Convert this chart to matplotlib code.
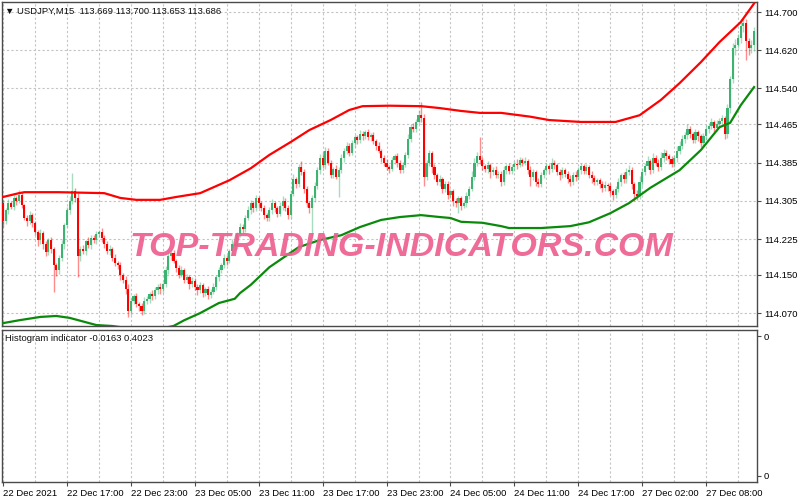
#!/usr/bin/env python3
# USDJPY M15 candles with channel bands + empty histogram sub-window (MT4 look)

import numpy as np
import matplotlib
matplotlib.use("Agg")
import matplotlib.pyplot as plt

plt.rcParams["font.family"] = ["Liberation Sans", "DejaVu Sans"]

# ----------------------------
# Data
# ----------------------------
FIRST_OPEN = 114.300

closes = [
    114.262, 114.285, 114.300, 114.292, 114.310, 114.305, 114.318, 114.296, 114.270, 114.262,
    114.275, 114.258, 114.240, 114.222, 114.238, 114.215, 114.198, 114.222, 114.205, 114.170,
    114.160, 114.185, 114.215, 114.255, 114.285, 114.305, 114.325, 114.310, 114.190, 114.205,
    114.200, 114.220, 114.212, 114.228, 114.222, 114.235, 114.240, 114.228, 114.215, 114.200,
    114.205, 114.185, 114.175, 114.170, 114.150, 114.140, 114.120, 114.075, 114.095, 114.105,
    114.090, 114.085, 114.075, 114.095, 114.100, 114.110, 114.105, 114.118, 114.125, 114.120,
    114.130, 114.160, 114.190, 114.195, 114.180, 114.165, 114.150, 114.160, 114.140, 114.145,
    114.130, 114.138, 114.125, 114.118, 114.128, 114.112, 114.120, 114.108, 114.115, 114.125,
    114.145, 114.160, 114.170, 114.185, 114.180, 114.200, 114.215, 114.210, 114.235, 114.250,
    114.245, 114.270, 114.285, 114.300, 114.290, 114.310, 114.300, 114.290, 114.275, 114.268,
    114.285, 114.300, 114.290, 114.278, 114.295, 114.305, 114.290, 114.275, 114.320, 114.350,
    114.340, 114.375, 114.365, 114.330, 114.300, 114.290, 114.310, 114.335, 114.370, 114.395,
    114.380, 114.410, 114.385, 114.360, 114.372, 114.355, 114.370, 114.395, 114.410, 114.420,
    114.405, 114.425, 114.438, 114.432, 114.445, 114.440, 114.448, 114.438, 114.443, 114.430,
    114.420, 114.410, 114.395, 114.385, 114.375, 114.372, 114.390, 114.398, 114.385, 114.370,
    114.380, 114.400, 114.435, 114.460, 114.455, 114.470, 114.485, 114.478, 114.355, 114.385,
    114.405, 114.375, 114.360, 114.345, 114.350, 114.330, 114.340, 114.318, 114.325, 114.305,
    114.300, 114.310, 114.295, 114.300, 114.315, 114.330, 114.355, 114.385, 114.398, 114.390,
    114.378, 114.372, 114.380, 114.365, 114.370, 114.360, 114.362, 114.345, 114.370, 114.378,
    114.368, 114.375, 114.383, 114.380, 114.390, 114.385, 114.388, 114.370, 114.355, 114.365,
    114.345, 114.340, 114.360, 114.370, 114.378, 114.372, 114.385, 114.380, 114.365, 114.358,
    114.370, 114.362, 114.350, 114.345, 114.360, 114.355, 114.370, 114.378, 114.368, 114.375,
    114.360, 114.352, 114.345, 114.348, 114.340, 114.332, 114.338, 114.335, 114.325, 114.318,
    114.330, 114.345, 114.358, 114.350, 114.365, 114.370, 114.340, 114.320, 114.315, 114.345,
    114.365, 114.378, 114.388, 114.370, 114.395, 114.385, 114.375, 114.395, 114.405, 114.398,
    114.392, 114.382, 114.395, 114.410, 114.420, 114.435, 114.442, 114.455, 114.445, 114.432,
    114.448, 114.440, 114.425, 114.440, 114.455, 114.462, 114.470, 114.458, 114.465, 114.472,
    114.478, 114.445, 114.500, 114.560, 114.625, 114.632, 114.645, 114.670, 114.678, 114.640,
    114.625, 114.630, 114.660,
]

# wick lengths in points (0.001)
upper_wicks = [
    6, 4, 8, 5, 7, 4, 10, 5, 3, 6,
    8, 4, 5, 3, 9, 4, 6, 5, 7, 4,
    5, 6, 8, 4, 7, 9, 38, 6, 12, 5,
    8, 4, 10, 6, 5, 7, 4, 8, 5, 6,
    7, 4, 9, 5, 6, 4, 8, 10, 6, 5,
    7, 4, 6, 8, 5, 4, 9, 6, 5, 7,
    6, 8, 10, 5, 7, 4, 6, 8, 5, 6,
    4, 7, 5, 6, 8, 4, 5, 7, 6, 9,
    5, 6, 4, 8, 7, 5, 10, 6, 4, 8,
    6, 5, 9, 7, 4, 8, 6, 5, 7, 4,
    6, 8, 5, 4, 7, 9, 5, 6, 8, 12,
    5, 7, 14, 6, 5, 4, 8, 10, 6, 7,
    12, 8, 5, 6, 4, 7, 5, 8, 6, 9,
    6, 7, 5, 4, 8, 6, 5, 7, 4, 6,
    5, 7, 4, 6, 8, 5, 6, 4, 7, 5,
    6, 8, 9, 5, 7, 6, 10, 27, 8, 6,
    7, 5, 6, 4, 8, 5, 6, 7, 4, 5,
    6, 4, 5, 7, 8, 6, 12, 9, 10, 40,
    6, 5, 8, 4, 6, 7, 5, 6, 8, 5,
    7, 6, 5, 9, 6, 4, 8, 5, 7, 6,
    5, 8, 6, 4, 7, 5, 9, 6, 5, 7,
    6, 4, 5, 8, 6, 7, 5, 6, 4, 8,
    5, 7, 6, 4, 5, 6, 8, 5, 7, 4,
    6, 8, 5, 7, 9, 10, 6, 5, 7, 12,
    8, 6, 10, 5, 9, 6, 7, 12, 8, 6,
    5, 7, 6, 9, 11, 8, 6, 10, 7, 5,
    8, 6, 5, 7, 9, 6, 8, 5, 10, 6,
    7, 5, 8, 6, 10, 12, 8, 15, 10, 8,
    6, 12, 8,
]

lower_wicks = [
    12, 5, 7, 4, 6, 8, 5, 7, 6, 9,
    5, 8, 6, 12, 7, 10, 8, 6, 9, 56,
    12, 8, 6, 10, 5, 7, 6, 8, 45, 10,
    7, 9, 6, 8, 5, 7, 6, 10, 8, 6,
    9, 7, 6, 8, 10, 7, 9, 13, 8, 6,
    7, 10, 8, 6, 5, 9, 7, 6, 8, 10,
    7, 5, 9, 8, 6, 10, 7, 5, 8, 6,
    9, 6, 7, 10, 5, 8, 6, 9, 7, 5,
    6, 8, 7, 5, 9, 6, 8, 7, 5, 6,
    8, 6, 5, 7, 9, 6, 10, 7, 8, 6,
    5, 7, 8, 6, 5, 9, 7, 8, 6, 5,
    8, 6, 7, 9, 8, 10, 61, 7, 6, 8,
    7, 9, 6, 8, 7, 5, 43, 6, 8, 7,
    6, 5, 7, 8, 6, 7, 5, 6, 8, 7,
    8, 6, 9, 7, 6, 8, 5, 7, 9, 6,
    7, 5, 6, 8, 7, 6, 5, 8, 20, 7,
    8, 12, 9, 7, 10, 8, 6, 9, 7, 10,
    8, 20, 9, 6, 8, 7, 5, 6, 8, 7,
    8, 7, 9, 12, 6, 8, 7, 10, 6, 8,
    7, 6, 8, 9, 5, 7, 6, 8, 20, 7,
    9, 7, 6, 8, 7, 10, 6, 8, 7, 9,
    6, 8, 7, 10, 6, 9, 7, 8, 6, 7,
    8, 10, 7, 6, 9, 8, 7, 10, 8, 12,
    7, 6, 9, 8, 7, 6, 10, 15, 9, 7,
    8, 6, 7, 9, 6, 8, 7, 6, 8, 7,
    9, 7, 6, 8, 7, 6, 9, 7, 8, 6,
    7, 9, 8, 6, 7, 8, 6, 9, 7, 8,
    6, 10, 8, 12, 9, 15, 8, 10, 12, 40,
    15, 10, 12,
]

# channel bands, sampled at bar indices
upper_band_bars = [0, 6, 8, 21, 38, 44, 50, 59, 65, 74, 85, 93, 100, 108, 115, 123, 130,
                   135, 145, 157, 164, 172, 179, 187, 198, 205, 217, 230, 239, 247, 254,
                   262, 269, 277, 282]
upper_band = [114.313, 114.321, 114.323, 114.323, 114.321, 114.311, 114.307, 114.307,
              114.313, 114.321, 114.348, 114.373, 114.401, 114.428, 114.453, 114.474,
              114.495, 114.503, 114.504, 114.503, 114.499, 114.493, 114.489, 114.489,
              114.481, 114.474, 114.470, 114.470, 114.484, 114.516, 114.551, 114.595,
              114.637, 114.679, 114.718]

lower_band_bars = [0, 6, 14, 20, 25, 31, 35, 41, 50, 57, 64, 68, 74, 81, 87, 89, 93, 100,
                   111, 119, 127, 134, 142, 149, 157, 164, 168, 172, 180, 187, 190, 202,
                   213, 220, 228, 235, 243, 254, 262, 269, 273, 277, 282]
lower_band = [114.049, 114.055, 114.062, 114.064, 114.060, 114.051, 114.045, 114.043,
              114.036, 114.035, 114.043, 114.055, 114.070, 114.091, 114.100, 114.112,
              114.129, 114.166, 114.208, 114.223, 114.233, 114.250, 114.265, 114.271,
              114.275, 114.271, 114.269, 114.261, 114.259, 114.252, 114.248, 114.248,
              114.252, 114.260, 114.279, 114.300, 114.332, 114.369, 114.411, 114.459,
              114.468, 114.505, 114.543]

price_ticks = [114.070, 114.150, 114.225, 114.305, 114.385, 114.465, 114.540, 114.620, 114.700]
time_labels = ["22 Dec 2021", "22 Dec 17:00", "22 Dec 23:00", "23 Dec 05:00",
               "23 Dec 11:00", "23 Dec 17:00", "23 Dec 23:00", "24 Dec 05:00",
               "24 Dec 11:00", "24 Dec 17:00", "27 Dec 02:00", "27 Dec 08:00"]
BARS_PER_LABEL = 24

HEADER = "\u25bc USDJPY,M15  113.669 113.700 113.653 113.686"
SUB_HEADER = "Histogram indicator -0.0163 0.4023"
WATERMARK = "TOP-TRADING-INDICATORS.COM"

BULL = "#3cb371"
BEAR = "#ff0000"
GRID = "#c4c4c4"
FRAME = "#4a4a4a"


def style_axis(ax):
    for s in ax.spines.values():
        s.set_color(FRAME)
        s.set_linewidth(1.0)
    ax.set_facecolor("white")


def main():
    c = np.asarray(closes)
    o = np.concatenate([[FIRST_OPEN], c[:-1]])
    n = len(c)
    x = np.arange(n)
    top = np.maximum(o, c)
    bot = np.minimum(o, c)
    hi = top + np.asarray(upper_wicks) / 1000.0
    lo = bot - np.asarray(lower_wicks) / 1000.0
    bull = c >= o
    colors = np.where(bull, BULL, BEAR)
    body = np.maximum(top - bot, 0.0008)

    fig = plt.figure(figsize=(8, 5), dpi=100)
    ax = fig.add_axes([2 / 800, 174 / 500, 755 / 800, 324 / 500])
    ax2 = fig.add_axes([2 / 800, 18 / 500, 755 / 800, 152 / 500])

    # --- main price window
    ax.vlines(x, lo, hi, colors=colors, linewidth=1.0, alpha=0.45, zorder=2)
    ax.bar(x, body, bottom=bot, width=0.8, color=colors, linewidth=0, zorder=3)
    ax.plot(upper_band_bars, upper_band, color="#ff0000", linewidth=1.6, zorder=4)
    ax.plot(lower_band_bars, lower_band, color="#0a8a0a", linewidth=1.6, zorder=4)

    ax.set_xlim(-0.4, 283.1)
    ax.set_ylim(114.043, 114.721)
    ax.yaxis.tick_right()
    ax.set_yticks(price_ticks)
    ax.set_yticklabels([f"{v:.3f}" for v in price_ticks])
    ax.tick_params(axis="y", length=3, width=0.8, color=FRAME, labelsize=6.8, pad=2)
    ax.set_xticks(np.arange(0, n, 12))
    ax.tick_params(axis="x", length=0, labelbottom=False)
    ax.grid(True, color=GRID, linestyle=(0, (2, 2)), linewidth=0.8)
    ax.set_axisbelow(True)
    style_axis(ax)

    ax.text(0.004, 0.985, HEADER, transform=ax.transAxes, ha="left", va="top",
            fontsize=6.8, color="#111111", zorder=6)

    # --- sub window
    ax2.set_xlim(-0.4, 283.1)
    ax2.set_ylim(0, 1)
    ax2.yaxis.tick_right()
    ax2.set_yticks([0.04, 0.96])
    ax2.set_yticklabels(["0", "0"])
    ax2.tick_params(axis="y", length=3, width=0.8, color=FRAME, labelsize=6.8, pad=2)
    ax2.set_xticks(np.arange(0, len(time_labels)) * BARS_PER_LABEL)
    ax2.set_xticklabels(time_labels, ha="left")
    ax2.set_xticks(np.arange(12, n, 24), minor=True)
    ax2.tick_params(axis="x", which="major", length=3, width=0.8, color=FRAME,
                    labelsize=6.8, pad=2)
    ax2.tick_params(axis="x", which="minor", length=0)
    ax2.grid(True, axis="x", which="both", color=GRID, linestyle=(0, (2, 2)), linewidth=0.8)
    ax2.set_axisbelow(True)
    style_axis(ax2)
    ax2.text(0.004, 0.975, SUB_HEADER, transform=ax2.transAxes, ha="left", va="top",
             fontsize=6.8, color="#111111")

    # --- watermark
    fig.text(0.502, 0.505, WATERMARK, ha="center", va="center",
             fontsize=24.5, fontweight="bold", fontstyle="italic",
             color="#ee5f8f", alpha=0.92, zorder=10)

    fig.savefig("out.png", dpi=100, facecolor="white")
    plt.close(fig)


if __name__ == "__main__":
    main()
